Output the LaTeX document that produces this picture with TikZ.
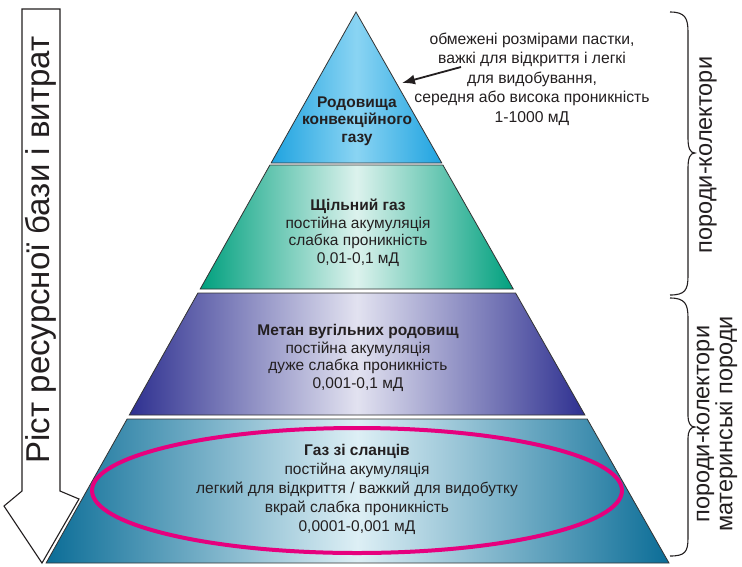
\documentclass[tikz,border=0pt]{standalone}
\usepackage{fontspec}
\setmainfont{Liberation Sans}
\usetikzlibrary{arrows.meta,calc}
\definecolor{txt}{HTML}{231F20}
\definecolor{lAedge}{HTML}{1FA3E0}
\definecolor{lAmid}{HTML}{8AD4F3}
\definecolor{lBedge}{HTML}{00A07E}
\definecolor{lBmid}{HTML}{DCF2ED}
\definecolor{lCedge}{HTML}{2E3090}
\definecolor{lCmid}{HTML}{E2E2F0}
\definecolor{lDedge}{HTML}{0B6D97}
\definecolor{lDmid}{HTML}{DDEFF5}
\definecolor{magent}{HTML}{E6007E}
\begin{document}
\begin{tikzpicture}[x=1pt,y=-1pt,
  layerline/.style={draw=black!80,line width=0.8pt},
  layertxt/.style={align=center,text=txt,inner sep=0pt,font=\fontsize{15.5}{17.5}\selectfont},
  notetxt/.style={align=center,text=txt,inner sep=0pt,font=\fontsize{15.7}{19.5}\selectfont},
  bracetxt/.style={align=center,text=txt,inner sep=0pt,rotate=90,font=\fontsize{23.5}{23}\selectfont},
  bracepath/.style={draw=txt,line width=1.1pt}]
\useasboundingbox (0,0) rectangle (742,566);
\fill[white] (0,0) rectangle (742,566);

% left block arrow
\draw[line width=1.1pt,fill=white,draw=txt] (22,9) -- (60,9) -- (60,491) -- (79,499) -- (42,563) -- (4,506) -- (22,491) -- cycle;
\node[rotate=90,text=txt,inner sep=0pt,font=\fontsize{33}{35}\selectfont] (growth) at (41,250) {Ріст ресурсної бази і витрат};

% pyramid layers
\shade[left color=lAedge,right color=lAedge,middle color=lAmid] (356,12) -- (441.8,163) -- (271.1,163) -- cycle;
\draw[layerline] (356,12) -- (441.8,163) -- (271.1,163) -- cycle;
\shade[left color=lBedge,right color=lBedge,middle color=lBmid] (269.9,165) -- (442.9,165) -- (513.3,289) -- (200.2,289) -- cycle;
\draw[layerline] (269.9,165) -- (442.9,165) -- (513.3,289) -- (200.2,289) -- cycle;
\shade[left color=lCedge,right color=lCedge,middle color=lCmid] (197.9,293) -- (515.6,293) -- (584.9,415) -- (129.3,415) -- cycle;
\draw[layerline] (197.9,293) -- (515.6,293) -- (584.9,415) -- (129.3,415) -- cycle;
\shade[left color=lDedge,right color=lDedge,middle color=lDmid] (127.1,419) -- (587.2,419) -- (669,563) -- (46.1,563) -- cycle;
\draw[layerline] (127.1,419) -- (587.2,419) -- (669,563) -- (46.1,563) -- cycle;

% highlight ellipse
\draw[magent,line width=4pt] (357,490.5) ellipse [x radius=265,y radius=62.5];

% layer texts
\node[layertxt] (conv) at (357,121) {\textbf{Родовища}\\\textbf{конвекційного}\\\textbf{газу}};
\node[layertxt] (tight) at (358,233) {\textbf{Щільний газ}\\постійна акумуляція\\слабка проникність\\0,01-0,1 мД};
\node[layertxt] (cbm) at (358,358) {\textbf{Метан вугільних родовищ}\\постійна акумуляція\\дуже слабка проникність\\0,001-0,1 мД};
\node[layertxt,font=\fontsize{15.5}{19}\selectfont] (shale) at (357,489) {\textbf{Газ зі сланців}\\постійна акумуляція\\легкий для відкриття / важкий для видобутку\\вкрай слабка проникність\\0,0001-0,001 мД};

% note
\node[notetxt] (note) at (532,79) {обмежені розмірами пастки,\\важкі для відкриття і легкі\\для видобування,\\середня або висока проникність\\1-1000 мД};
\coordinate (notetail) at (461,67);
\coordinate (notetip) at (402,83);
\draw[txt,line width=1.8pt,-{Latex[length=13pt,width=10pt]}] (notetail) -- (notetip);

% braces
\draw[bracepath] (670,12) .. controls (685,12) and (688,18) .. (688,32) -- (688,138) .. controls (688,148) and (690,153) .. (695,153) .. controls (690,153) and (688,158) .. (688,168) -- (688,276) .. controls (688,290) and (685,295) .. (670,295);
\draw[bracepath] (670,298) .. controls (685,298) and (688,304) .. (688,318) -- (688,416) .. controls (688,422) and (690,427) .. (695,427) .. controls (690,427) and (688,432) .. (688,438) -- (688,538) .. controls (688,552) and (685,556) .. (670,556);
\node[bracetxt] (br1) at (708,155) {породи-колектори};
\node[bracetxt] (br2) at (717,424) {породи-колектори\\материнські породи};
\end{tikzpicture}
\end{document}
